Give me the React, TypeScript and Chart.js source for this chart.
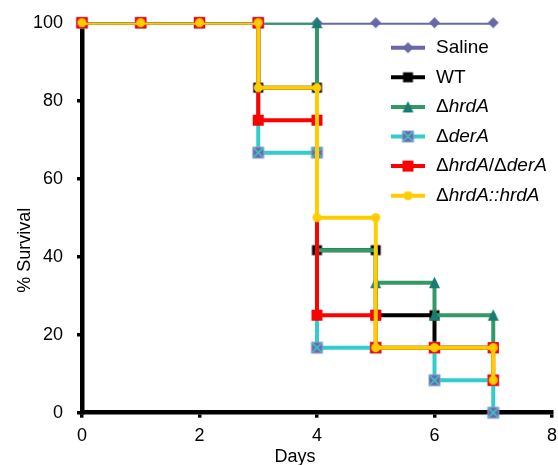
import React, { useEffect, useRef } from 'react';
import { Chart, registerables } from 'chart.js';

Chart.register(...registerables);

// ---- data ----
const seriesNames = ['Saline', 'WT', 'Δ<i>hrdA</i>', 'Δ<i>derA</i>', 'Δ<i>hrdA</i>/Δ<i>derA</i>', 'Δ<i>hrdA::hrdA</i>'];

const salineDays = [0, 1, 2, 3, 4, 5, 6, 7];
const salineSurvival = [100, 100, 100, 100, 100, 100, 100, 100];

const wtDays = [0, 1, 2, 3, 3, 4, 4, 5, 5, 6, 6, 7];
const wtSurvival = [100, 100, 100, 100, 83.33, 83.33, 41.67, 41.67, 25, 25, 16.67, 16.67];

const hrdADays = [0, 1, 2, 3, 4, 4, 5, 5, 6, 6, 7, 7];
const hrdASurvival = [100, 100, 100, 100, 100, 41.67, 41.67, 33.33, 33.33, 25, 25, 16.67];

const derADays = [0, 1, 2, 3, 3, 4, 4, 5, 6, 6, 7, 7];
const derASurvival = [100, 100, 100, 100, 66.67, 66.67, 16.67, 16.67, 16.67, 8.33, 8.33, 0];

const hrdAderADays = [0, 1, 2, 3, 3, 4, 4, 5, 5, 6, 7, 7];
const hrdAderASurvival = [100, 100, 100, 100, 75, 75, 25, 25, 16.67, 16.67, 16.67, 8.33];

const compDays = [0, 1, 2, 3, 3, 4, 4, 5, 5, 6, 7, 7];
const compSurvival = [100, 100, 100, 100, 83.33, 83.33, 50, 50, 16.67, 16.67, 16.67, 8.33];

const xTicks = [0, 2, 4, 6, 8];
const yTicks = [0, 20, 40, 60, 80, 100];
const xTitle = 'Days';
const yTitle = '% Survival';

// ---- styles ----
const lineColors = ['#6868a8', '#000000', '#339966', '#33cccc', '#ff0000', '#ffcc00'];
const markerKinds = ['diamond', 'squareBlack', 'triangle', 'xsquare', 'squareRed', 'circle'];
const hiddenMarkerIdx: number[][] = [[], [], [5, 6], [], [], []];
const FONT = '"Liberation Sans", Arial, sans-serif';

function makeMarker(kind: string): HTMLCanvasElement {
  const c = document.createElement('canvas');
  c.width = 15;
  c.height = 15;
  const g = c.getContext('2d') as CanvasRenderingContext2D;
  const m = 7.5;
  g.beginPath();
  switch (kind) {
    case 'diamond':
      g.fillStyle = '#6868a8';
      g.moveTo(m, m - 5.5); g.lineTo(m + 5.5, m); g.lineTo(m, m + 5.5); g.lineTo(m - 5.5, m);
      g.closePath(); g.fill();
      break;
    case 'squareBlack':
      g.fillStyle = '#000';
      g.fillRect(m - 5, m - 5, 10, 10);
      break;
    case 'triangle':
      g.fillStyle = '#167d70';
      g.moveTo(m, m - 6); g.lineTo(m + 5.5, m + 5.5); g.lineTo(m - 5.5, m + 5.5);
      g.closePath(); g.fill();
      break;
    case 'xsquare':
      g.fillStyle = '#6a6aa6';
      g.fillRect(m - 5.5, m - 5.5, 11, 11);
      g.strokeStyle = '#9a9ad0';
      g.lineWidth = 1;
      g.strokeRect(m - 5.5, m - 5.5, 11, 11);
      g.strokeStyle = '#33cccc';
      g.lineWidth = 1.5;
      g.beginPath();
      g.moveTo(m - 5, m - 5); g.lineTo(m + 5, m + 5);
      g.moveTo(m + 5, m - 5); g.lineTo(m - 5, m + 5);
      g.stroke();
      break;
    case 'squareRed':
      g.fillStyle = '#ff0000';
      g.fillRect(m - 5.5, m - 5.5, 11, 11);
      break;
    case 'circle':
      g.fillStyle = '#ffcc00';
      g.arc(m, m, 4.5, 0, Math.PI * 2);
      g.fill();
      break;
  }
  return c;
}

function parseLabel(s: string): { text: string; italic: boolean }[] {
  const parts: { text: string; italic: boolean }[] = [];
  const re = /<i>(.*?)<\/i>/g;
  let last = 0;
  let mt: RegExpExecArray | null;
  while ((mt = re.exec(s))) {
    if (mt.index > last) parts.push({ text: s.slice(last, mt.index), italic: false });
    parts.push({ text: mt[1], italic: true });
    last = re.lastIndex;
  }
  if (last < s.length) parts.push({ text: s.slice(last), italic: false });
  return parts;
}

export default function App() {
  const ref = useRef<HTMLCanvasElement | null>(null);

  useEffect(() => {
    if (!ref.current) return;
    const markers = markerKinds.map(makeMarker);
    const series = [
      [salineDays, salineSurvival],
      [wtDays, wtSurvival],
      [hrdADays, hrdASurvival],
      [derADays, derASurvival],
      [hrdAderADays, hrdAderASurvival],
      [compDays, compSurvival],
    ];
    const datasets: any[] = [];
    series.forEach(([xs, ys], i) => {
      const pts = xs.map((x, k) => ({ x, y: ys[k] }));
      datasets.push({
        label: seriesNames[i] + ' line',
        data: pts,
        borderColor: lineColors[i],
        backgroundColor: lineColors[i],
        borderWidth: 4,
        tension: 0,
        pointRadius: 0,
        pointHoverRadius: 0,
        borderJoinStyle: 'miter',
        borderCapStyle: 'butt',
        fill: false,
        clip: { left: false, top: 0, right: false, bottom: false },
        order: 100 - 2 * i,
      });
      datasets.push({
        label: seriesNames[i],
        data: pts,
        showLine: false,
        pointStyle: markers[i],
        pointRadius: pts.map((_, k) => (hiddenMarkerIdx[i].includes(k) ? 0 : 5)),
        pointHoverRadius: pts.map((_, k) => (hiddenMarkerIdx[i].includes(k) ? 0 : 5)),
        borderColor: lineColors[i],
        backgroundColor: lineColors[i],
        clip: false,
        order: 99 - 2 * i,
      });
    });

    const overlayPlugin = {
      id: 'overlay',
      afterDraw(chart: any) {
        const ctx: CanvasRenderingContext2D = chart.ctx;
        const a = chart.chartArea;
        // legend
        const x0 = a.right - 161;
        const x1 = a.right - 127;
        const tx = a.right - 116;
        const y0 = a.top + 25;
        const dy = 29.6;
        seriesNames.forEach((name, i) => {
          const y = y0 + i * dy;
          ctx.save();
          ctx.strokeStyle = lineColors[i];
          ctx.lineWidth = 4;
          ctx.lineCap = 'butt';
          ctx.beginPath();
          ctx.moveTo(x0, y);
          ctx.lineTo(x1, y);
          ctx.stroke();
          const img = markers[i];
          ctx.drawImage(img, (x0 + x1) / 2 - img.width / 2, y - img.height / 2);
          ctx.fillStyle = '#000';
          ctx.textBaseline = 'middle';
          ctx.textAlign = 'left';
          let x = tx;
          for (const p of parseLabel(name)) {
            ctx.font = (p.italic ? 'italic ' : '') + '19px ' + FONT;
            ctx.fillText(p.text, x, y);
            x += ctx.measureText(p.text).width;
          }
          ctx.restore();
        });
        // axis titles
        ctx.save();
        ctx.fillStyle = '#000';
        ctx.font = '18px ' + FONT;
        ctx.textAlign = 'center';
        ctx.textBaseline = 'alphabetic';
        ctx.fillText(xTitle, a.left + 213, a.bottom + 49);
        ctx.translate(a.left - 52, a.top + 227.5);
        ctx.rotate(-Math.PI / 2);
        ctx.fillText(yTitle, 0, 0);
        ctx.restore();
      },
    };

    const tickFont = { family: FONT, size: 18 };
    const chart = new Chart(ref.current, {
      type: 'line',
      data: { datasets },
      plugins: [overlayPlugin],
      options: {
        animation: false,
        responsive: false,
        devicePixelRatio: 1,
        events: [],
        layout: { padding: { top: 22.7, right: 5, left: 0, bottom: 0 } },
        plugins: { legend: { display: false }, tooltip: { enabled: false }, title: { display: false } },
        scales: {
          x: {
            type: 'linear',
            min: 0,
            max: 8,
            afterBuildTicks: (s: any) => { s.ticks = xTicks.map((v) => ({ value: v })); },
            afterFit: (s: any) => { s.height = 52.3; s.paddingLeft = 0; s.paddingRight = 0; },
            ticks: { font: tickFont, color: '#000', padding: 7.5, autoSkip: false, maxRotation: 0 },
            grid: { display: true, drawOnChartArea: false, drawTicks: true, tickLength: 5, lineWidth: 3.5, color: '#000' },
            border: { display: true, color: '#000', width: 4.5 },
          },
          y: {
            type: 'linear',
            min: 0,
            max: 100,
            afterBuildTicks: (s: any) => { s.ticks = yTicks.map((v) => ({ value: v })); },
            afterFit: (s: any) => { s.width = 82; s.paddingTop = 0; s.paddingBottom = 0; },
            ticks: { font: tickFont, color: '#000', padding: 14, autoSkip: false },
            grid: { display: true, drawOnChartArea: false, drawTicks: true, tickLength: 5, lineWidth: 3.5, color: '#000' },
            border: { display: true, color: '#000', width: 4.5 },
          },
        },
      } as any,
    });
    return () => chart.destroy();
  }, []);

  return (
    <div style={{ position: 'fixed', left: 0, top: 0, width: 558, height: 465, background: '#fff' }}>
      <canvas ref={ref} width={558} height={465} style={{ display: 'block' }} />
    </div>
  );
}
